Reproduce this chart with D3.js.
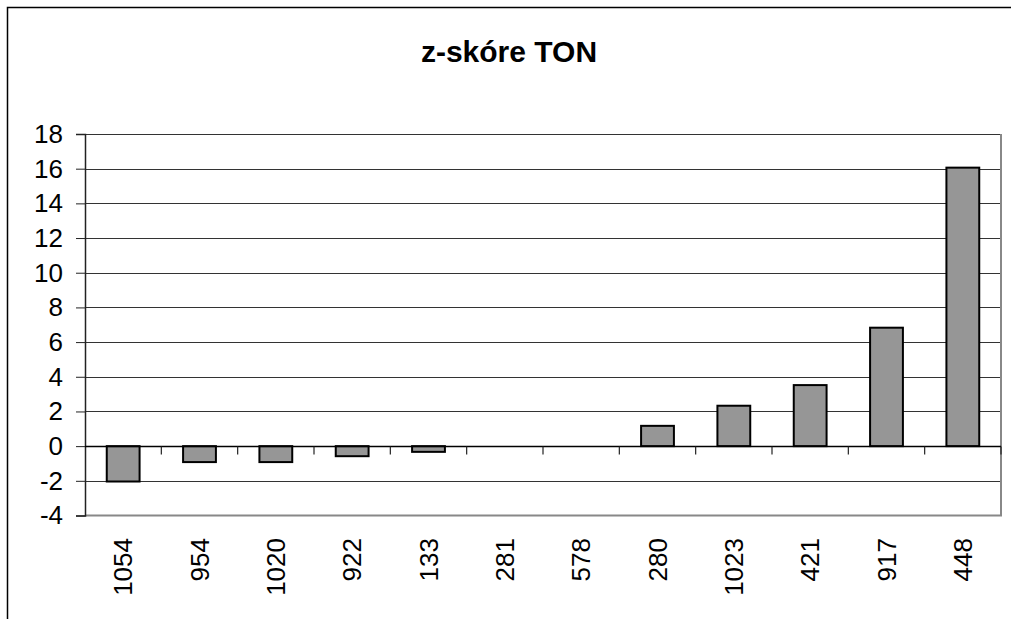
<!DOCTYPE html>
<html>
<head>
<meta charset="utf-8">
<script src="https://cdn.jsdelivr.net/npm/d3@7"></script>
<style>
  body { margin: 0; background: #fff; }
  svg { display: block; font-family: Arial, "Liberation Sans", sans-serif; }
</style>
</head>
<body>
<div id="chart"></div>
<script>
var title = 'z-skóre TON';
var categories = ['1054', '954', '1020', '922', '133', '281', '578', '280', '1023', '421', '917', '448'];
var values = [-2.04, -0.92, -0.92, -0.58, -0.33, 0, 0, 1.17, 2.33, 3.52, 6.83, 16.06];
var yTicks = [-4, -2, 0, 2, 4, 6, 8, 10, 12, 14, 16, 18];

var width = 1011, height = 619;
var plot = { left: 85, right: 1001, top: 134, bottom: 515.5 };

var svg = d3.select('#chart').append('svg')
  .attr('width', width)
  .attr('height', height);

// chart frame, cut off by the window on right and bottom
svg.append('rect')
  .attr('x', 7.5).attr('y', 7.5)
  .attr('width', 1040).attr('height', 660)
  .attr('fill', '#fff')
  .attr('stroke', '#000')
  .attr('stroke-width', 1.5);

svg.append('text')
  .attr('x', 509).attr('y', 62)
  .attr('text-anchor', 'middle')
  .attr('font-size', 30)
  .attr('font-weight', 'bold')
  .text(title);

var x = d3.scaleBand()
  .domain(categories)
  .range([plot.left, plot.right])
  .padding(0);

var y = d3.scaleLinear()
  .domain([-4, 18])
  .range([plot.bottom, plot.top]);

// gridlines
svg.append('g')
  .selectAll('line')
  .data(yTicks.filter(function (t) { return t !== -4; }))
  .enter().append('line')
    .attr('x1', plot.left).attr('x2', plot.right)
    .attr('y1', function (d) { return Math.round(y(d)) + 0.5; })
    .attr('y2', function (d) { return Math.round(y(d)) + 0.5; })
    .attr('stroke', '#333')
    .attr('stroke-width', 1);

// plot border right / bottom
svg.append('path')
  .attr('d', 'M' + plot.right + ',' + plot.top + 'V' + plot.bottom + 'H' + plot.left)
  .attr('fill', 'none')
  .attr('stroke', '#888')
  .attr('stroke-width', 2);

// bars
var barW = x.bandwidth() * 0.43;
svg.append('g')
  .selectAll('rect')
  .data(values)
  .enter().append('rect')
    .attr('x', function (d, i) { return x(categories[i]) + (x.bandwidth() - barW) / 2; })
    .attr('y', function (d) { return y(Math.max(0, d)); })
    .attr('width', barW)
    .attr('height', function (d) { return Math.abs(y(d) - y(0)); })
    .attr('fill', '#969696')
    .attr('stroke', '#000')
    .attr('stroke-width', 2);

// y axis
var yAxis = svg.append('g')
  .attr('transform', 'translate(' + plot.left + ',0)')
  .call(d3.axisLeft(y).tickValues(yTicks).tickSize(9).tickPadding(13)
    .tickFormat(function (d) { return String(d); }));
yAxis.select('.domain').attr('stroke', '#222').attr('stroke-width', 1.5);
yAxis.selectAll('.tick line').attr('stroke', '#222');
yAxis.selectAll('text').attr('font-size', 26).attr('fill', '#000')
  .attr('font-family', 'Arial, "Liberation Sans", sans-serif');

// x axis at zero
var x0 = Math.round(y(0)) + 0.5;
svg.append('line')
  .attr('x1', plot.left).attr('x2', plot.right)
  .attr('y1', x0).attr('y2', x0)
  .attr('stroke', '#000').attr('stroke-width', 1.5);

svg.append('g')
  .selectAll('line')
  .data(categories.slice(1).concat(['end']))
  .enter().append('line')
    .attr('x1', function (d, i) { return plot.left + x.step() * (i + 1); })
    .attr('x2', function (d, i) { return plot.left + x.step() * (i + 1); })
    .attr('y1', x0).attr('y2', x0 + 8)
    .attr('stroke', '#222').attr('stroke-width', 1.2);

// category labels, rotated
svg.append('g')
  .selectAll('text')
  .data(categories)
  .enter().append('text')
    .attr('transform', function (d) {
      return 'translate(' + (x(d) + x.bandwidth() / 2) + ',538) rotate(-90)';
    })
    .attr('text-anchor', 'end')
    .attr('dy', '0.35em')
    .attr('font-size', 26)
    .text(function (d) { return d; });
</script>
</body>
</html>
